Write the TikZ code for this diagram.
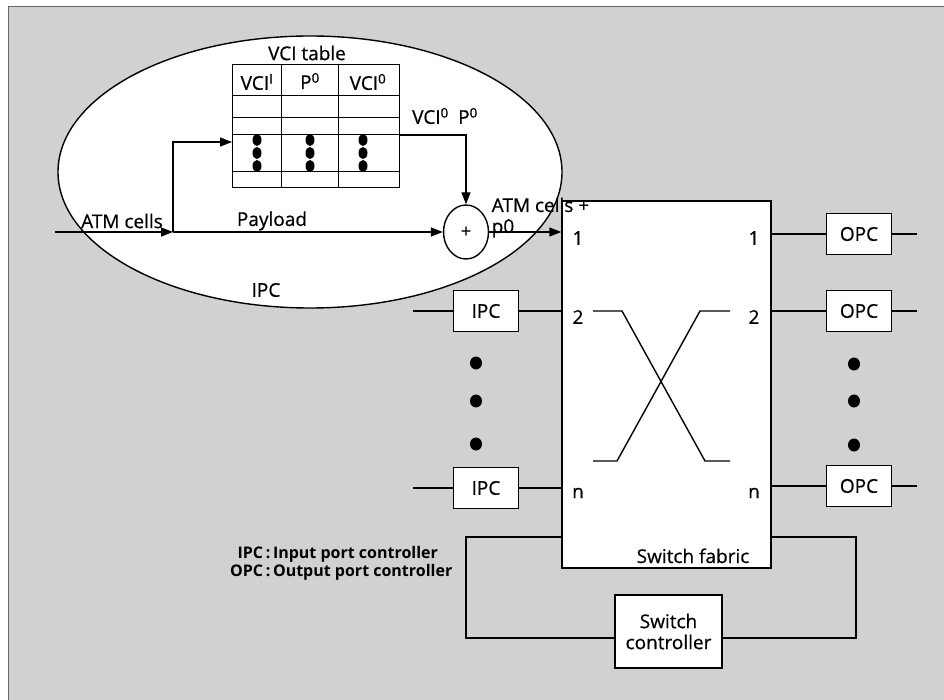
\documentclass[tikz,border=0pt]{standalone}
\usepackage{fontspec}
\setmainfont{Open Sans}[UprightFeatures={FakeBold=0.6}]
\usetikzlibrary{arrows.meta,calc,shapes.geometric}
\begin{document}
\begin{tikzpicture}[x=1pt,y=-1pt,
  line width=1.4pt,
  arr/.style={-{Triangle[length=12pt,width=9pt]}},
  lbl/.style={font=\fontsize{19}{21}\selectfont, inner sep=0pt},
  port/.style={draw, fill=white, minimum width=65pt, minimum height=41pt, inner sep=0pt, font=\fontsize{19}{21}\selectfont},
  dotn/.style={fill=black, ellipse, minimum width=12pt, minimum height=13pt, inner sep=0pt},
  tdot/.style={fill=black, ellipse, minimum width=9pt, minimum height=12pt, inner sep=0pt},
  tline/.style={line width=1pt}]
\useasboundingbox (0,0) rectangle (944,700);
% background
\fill[black!18] (8,7) rectangle (944,700);
\draw[black!60, line width=1pt] (8,700) -- (8,7) -- (944,7);

% IPC ellipse
\draw[fill=white] (310,172) ellipse [x radius=252pt, y radius=136pt];
\node[lbl] (ipclbl) at (266,290) {IPC};

% VCI table
\node[lbl] (vcit) at (307,53) {VCI table};
\node[draw, tline, minimum width=167pt, minimum height=123pt, inner sep=0pt] (tab) at (315.5,126.5) {};
\draw[tline] (281,65) -- (281,188);
\draw[tline] (338,65) -- (338,188);
\draw[tline] (232,96) -- (399,96);
\draw[tline] (232,118) -- (399,118);
\draw[tline] (232,135) -- (399,135);
\draw[tline] (232,172) -- (399,172);
\node[lbl] (h1) at (257,82) {VCI\textsuperscript{I}};
\node[lbl] (h2) at (310,81) {P\textsuperscript{0}};
\node[lbl] (h3) at (368,82) {VCI\textsuperscript{0}};
\foreach \cx/\nm in {257/a,310/b,363/c}{
  \node[tdot] (t\nm1) at (\cx,140) {};
  \node[tdot] (t\nm2) at (\cx,153) {};
  \node[tdot] (t\nm3) at (\cx,166) {};
}

% adder
\node[draw, fill=white, ellipse, minimum width=45pt, minimum height=54pt, inner sep=0pt, font=\fontsize{18}{20}\selectfont] (add) at (466,232) {+};

% input path
\coordinate (in) at (55,232);
\coordinate (br) at (173,232);
\coordinate (tin) at (232,142);
\coordinate (tout) at (399,135);
\draw[arr] (in) -- (br);
\draw[arr] (br) -- (add.west);
\draw[arr] (br) |- (tin);
\draw[arr] (tout) -| (add.north);
\node[lbl] (atm) at (122,221) {ATM cells};
\node[lbl] (pay) at (272,221) {Payload};
\node[lbl] (vp) at (445,116) {VCI\textsuperscript{0}\enspace P\textsuperscript{0}};

% switch fabric
\node[draw, fill=white, minimum width=209pt, minimum height=367pt, inner sep=0pt] (fab) at (666.5,384.5) {};
\draw[arr] (add.east) -- (fab.west |- add.east);
\node[lbl, anchor=base west] (atmp) at (491,212) {ATM cells +};
\node[lbl, anchor=base west] (atmp0) at (491,233) {p0};
\node[lbl] (l1) at (578,238) {1};
\node[lbl] (l2) at (578,317) {2};
\node[lbl] (ln) at (578,493) {n};
\node[lbl] (r1) at (754,238) {1};
\node[lbl] (r2) at (754,317) {2};
\node[lbl] (rn) at (754,493) {n};
\node[lbl, anchor=base] (sfl) at (693,563) {Switch fabric};

% crossing inside fabric
\draw (593,311) -- (622,311) -- (705,461) -- (730,461);
\draw (593,461) -- (617,461) -- (700,311) -- (730,311);

% IPC ports
\node[port] (ipc2) at (486,311) {IPC};
\node[port] (ipcn) at (486,488) {IPC};
\coordinate (i2) at (413,311);
\coordinate (in2) at (413,488);
\draw (i2) -- (ipc2.west);
\draw (ipc2.east) -- (fab.west |- ipc2.east);
\draw (in2) -- (ipcn.west);
\draw (ipcn.east) -- (fab.west |- ipcn.east);
\node[dotn] (ld1) at (476,363) {};
\node[dotn] (ld2) at (476,401) {};
\node[dotn] (ld3) at (476,444) {};

% OPC ports
\node[port] (opc1) at (859,234) {OPC};
\node[port] (opc2) at (859,311) {OPC};
\node[port] (opcn) at (859,486) {OPC};
\coordinate (o1) at (917,234);
\coordinate (o2) at (917,311);
\coordinate (on) at (917,486);
\draw (fab.east |- opc1.west) -- (opc1.west);
\draw (opc1.east) -- (o1);
\draw (fab.east |- opc2.west) -- (opc2.west);
\draw (opc2.east) -- (o2);
\draw (fab.east |- opcn.west) -- (opcn.west);
\draw (opcn.east) -- (on);
\node[dotn] (rd1) at (854,364) {};
\node[dotn] (rd2) at (854,401) {};
\node[dotn] (rd3) at (854,445) {};

% switch controller loop
\node[draw, fill=white, minimum width=107pt, minimum height=73pt, inner sep=0pt, align=center, font=\fontsize{19}{21}\selectfont] (sc) at (668.5,631.5) {Switch\\controller};
\coordinate (ltl) at (466,537);
\coordinate (lbl) at (466,638);
\coordinate (rtl) at (856,537);
\coordinate (rbl) at (856,638);
\draw (fab.west |- ltl) -- (ltl) -- (lbl) -- (lbl -| sc.west);
\draw (lbl -| sc.east) -- (rbl) -- (rtl) -- (fab.east |- rtl);

% legend
\node[anchor=east, inner sep=0pt, font=\fontsize{16}{18}\selectfont\bfseries] (leg) at (453,564) {%
  \begin{tabular}{@{}r@{\,:\,}l@{}}IPC & Input port controller\\ OPC & Output port controller\end{tabular}};
\end{tikzpicture}
\end{document}
